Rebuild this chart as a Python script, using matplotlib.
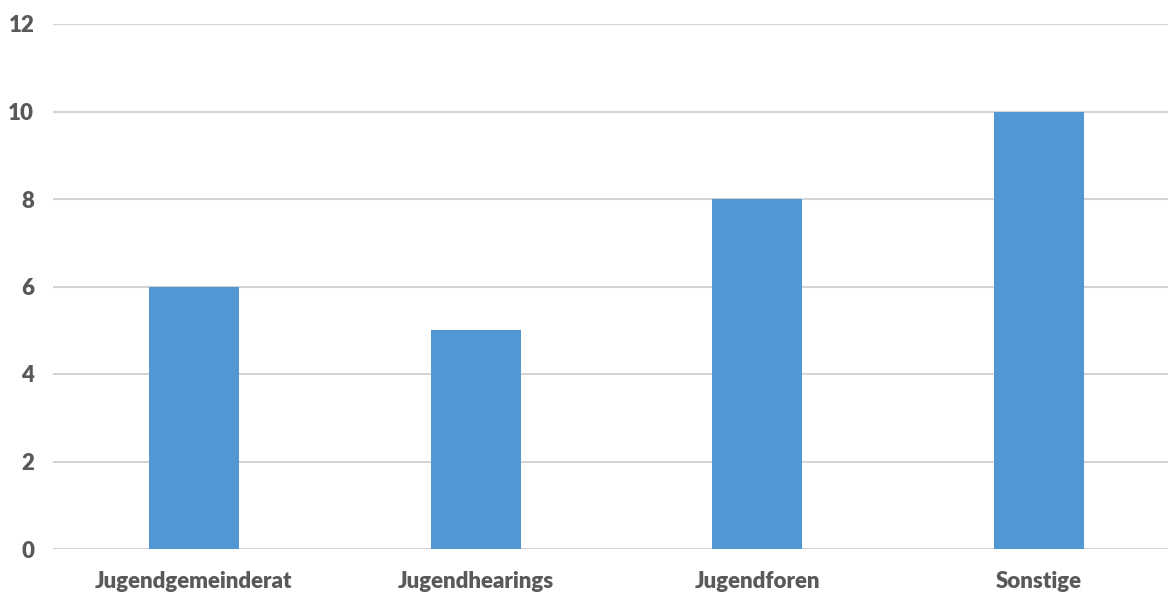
import matplotlib.pyplot as plt

categories = ['Jugendgemeinderat', 'Jugendhearings', 'Jugendforen', 'Sonstige']
values = [6, 5, 8, 10]
yticks = [0, 2, 4, 6, 8, 10, 12]

plt.rcParams['font.family'] = ['Lato', 'DejaVu Sans']

fig = plt.figure(figsize=(11.68, 5.92), dpi=100)
ax = fig.add_axes([53 / 1168, 1 - 549 / 592, 1127 / 1168, 525 / 592])

x = range(len(categories))
ax.bar(x, values, width=0.32, color='#5197d3', zorder=3)

ax.set_xlim(-0.5, len(categories) - 0.5)
ax.set_ylim(0, 12)
ax.set_yticks(yticks)
ax.set_xticks(list(x))
ax.set_xticklabels(categories)

ax.grid(axis='y', color='#d4d4d4', linewidth=1.5, zorder=0)
for s in ax.spines.values():
    s.set_visible(False)
ax.tick_params(length=0, labelsize=16, labelcolor='#595959')
ax.tick_params(axis='y', pad=13.5)
ax.tick_params(axis='x', pad=15.5)
for lbl in ax.get_xticklabels() + ax.get_yticklabels():
    lbl.set_fontweight('heavy')

fig.savefig('out.png', dpi=100)
